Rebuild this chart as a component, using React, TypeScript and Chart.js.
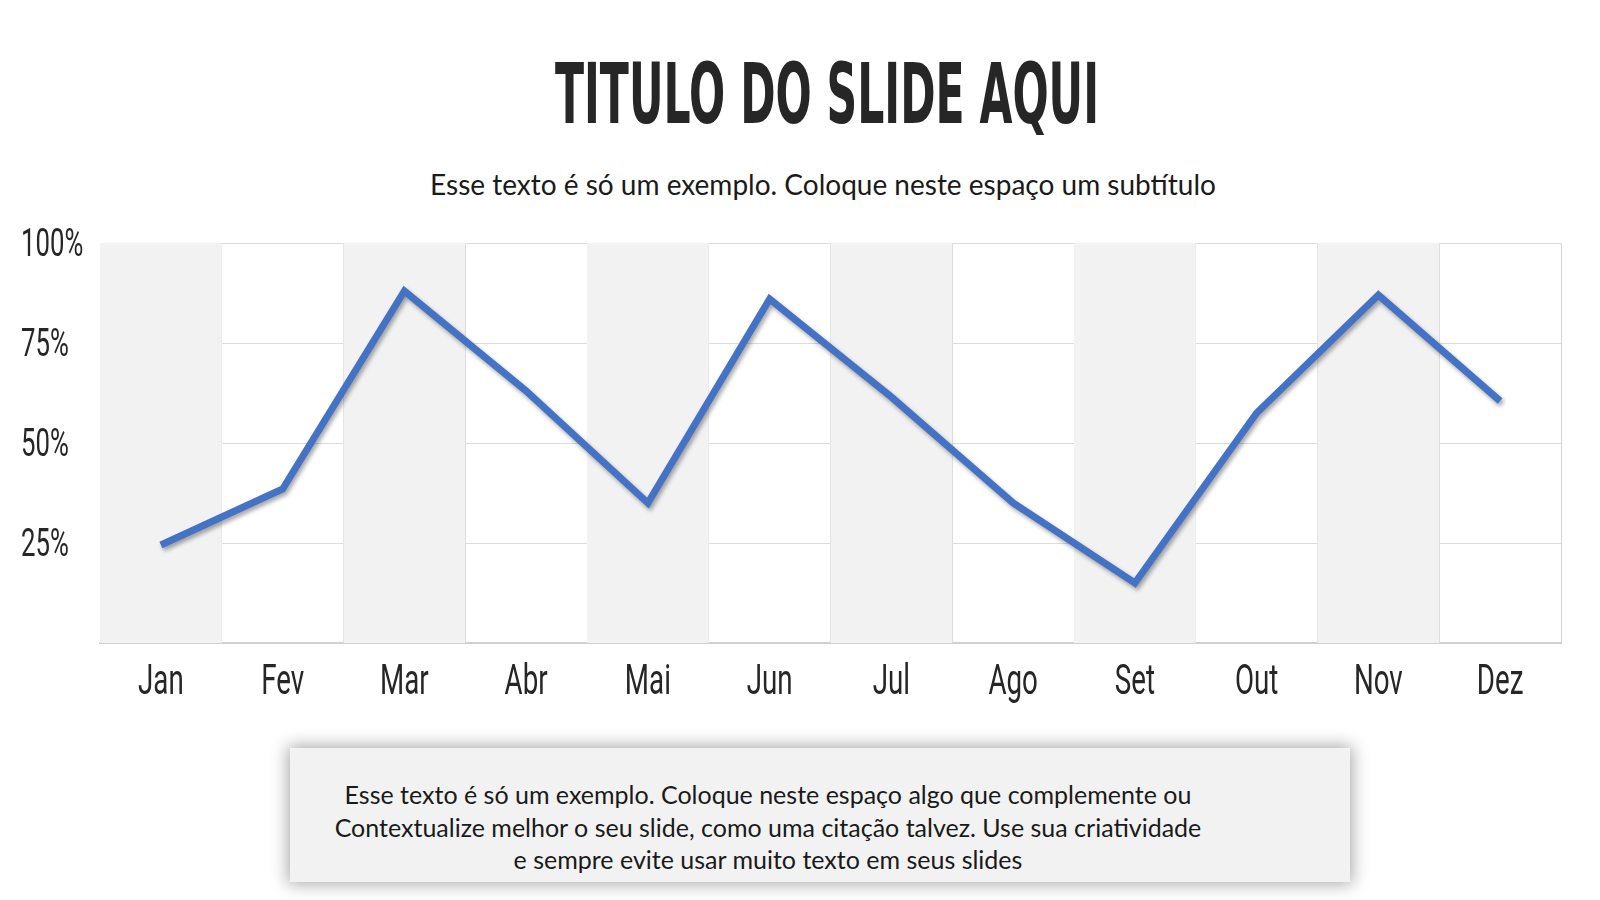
import { useEffect, useRef } from 'react';
import { Chart, ChartConfiguration, Plugin, registerables } from 'chart.js';

Chart.register(...registerables);

const months = ['Jan', 'Fev', 'Mar', 'Abr', 'Mai', 'Jun', 'Jul', 'Ago', 'Set', 'Out', 'Nov', 'Dez'];
const values = [24.5, 38.5, 88, 63, 35, 86, 61.5, 35, 15, 57.5, 87, 60.5];
const yTicks = [0, 25, 50, 75, 100];

const gill = 'Lato, "Open Sans", sans-serif';
const tickFont = '400 42px Roboto, "DejaVu Sans", sans-serif';
const yTickFont = '400 39px Roboto, "DejaVu Sans", sans-serif';
const squeeze = 0.66;

// grey bands behind every other month (Jan, Mar, Mai...)
const bandPlugin: Plugin = {
  id: 'bands',
  beforeDatasetsDraw(chart) {
    const { ctx, chartArea, scales } = chart;
    const x = scales.x;
    const w = (chartArea.right - chartArea.left) / months.length;
    ctx.save();
    ctx.fillStyle = '#f2f2f2';
    months.forEach((_, i) => {
      if (i % 2 !== 0) return;
      const cx = x.getPixelForValue(i);
      ctx.fillRect(cx - w / 2, chartArea.top, w, chartArea.bottom - chartArea.top);
    });
    ctx.restore();
  },
};

// soft drop shadow under the line
const shadowPlugin: Plugin = {
  id: 'lineShadow',
  beforeDatasetDraw(chart) {
    const ctx = chart.ctx;
    ctx.save();
    ctx.shadowColor = 'rgba(0,0,0,0.35)';
    ctx.shadowBlur = 4;
    ctx.shadowOffsetX = 2;
    ctx.shadowOffsetY = 3;
  },
  afterDatasetDraw(chart) {
    chart.ctx.restore();
  },
};

// condensed tick labels (no narrow font installed, so squeeze horizontally)
const condensedTicks: Plugin = {
  id: 'condensedTicks',
  afterDraw(chart) {
    const { ctx, chartArea, scales } = chart;
    const x = scales.x;
    const y = scales.y;
    ctx.save();
    ctx.fillStyle = '#262626';
    ctx.textBaseline = 'middle';

    ctx.font = tickFont;
    ctx.textAlign = 'center';
    x.ticks.forEach((t, i) => {
      const px = x.getPixelForTick(i);
      ctx.save();
      ctx.translate(px, chartArea.bottom + 40);
      ctx.scale(squeeze, 1);
      ctx.fillText(String(x.getLabelForValue(t.value)), 0, 0);
      ctx.restore();
    });

    ctx.font = yTickFont;
    ctx.textAlign = 'left';
    y.ticks.forEach((t) => {
      if (t.value === 0) return;
      const py = y.getPixelForValue(t.value);
      ctx.save();
      ctx.translate(21, py + 3);
      ctx.scale(squeeze, 1);
      ctx.fillText(`${t.value}%`, 0, 0);
      ctx.restore();
    });
    ctx.restore();
  },
};

export default function App() {
  const chartRef = useRef<HTMLCanvasElement>(null);
  const chartInstance = useRef<Chart | null>(null);

  useEffect(() => {
    document.body.style.margin = '0';
    if (!chartRef.current) return;
    const ctx = chartRef.current.getContext('2d');
    if (!ctx) return;

    if (chartInstance.current) {
      chartInstance.current.destroy();
    }

    const config: ChartConfiguration = {
      type: 'line',
      data: {
        labels: months,
        datasets: [
          {
            data: values,
            borderColor: '#4472c4',
            borderWidth: 7,
            pointRadius: 0,
            tension: 0,
            borderJoinStyle: 'miter',
            borderCapStyle: 'butt',
          },
        ],
      },
      options: {
        responsive: true,
        maintainAspectRatio: false,
        animation: false,
        layout: { padding: { top: 43, right: 39, left: 0, bottom: 0 } },
        plugins: {
          legend: { display: false },
          tooltip: { enabled: false },
        },
        scales: {
          x: {
            offset: true,
            afterFit: (scale) => {
              scale.height = 67;
            },
            grid: {
              offset: true,
              color: '#d6d6d6',
              lineWidth: 1,
              drawTicks: false,
            },
            border: { color: '#d0d0d0', width: 2 },
            ticks: { display: false },
          },
          y: {
            min: 0,
            max: 100,
            afterFit: (scale) => {
              scale.width = 100;
              scale.paddingTop = 0;
              scale.paddingBottom = 0;
            },
            afterBuildTicks: (scale) => {
              scale.ticks = yTicks.map((v) => ({ value: v }));
            },
            grid: {
              color: '#dcdcdc',
              lineWidth: 1,
              drawTicks: false,
            },
            border: { display: false },
            ticks: { display: false },
          },
        },
      },
      plugins: [bandPlugin, shadowPlugin, condensedTicks],
    };

    chartInstance.current = new Chart(ctx, config);

    return () => {
      if (chartInstance.current) {
        chartInstance.current.destroy();
        chartInstance.current = null;
      }
    };
  }, []);

  return (
    <div
      style={{
        position: 'relative',
        width: 1600,
        height: 900,
        background: '#ffffff',
        overflow: 'hidden',
      }}
    >
      <div
        style={{
          position: 'absolute',
          left: 0,
          width: 1654,
          top: 44,
          textAlign: 'center',
          fontFamily: '"DejaVu Sans", sans-serif',
          fontWeight: 'bold',
          fontSize: 84,
          lineHeight: '100px',
          color: '#262626',
          transform: 'scaleX(0.507)',
          transformOrigin: '50% 50%',
          whiteSpace: 'nowrap',
        }}
      >
        TITULO DO SLIDE AQUI
      </div>
      <div
        style={{
          position: 'absolute',
          left: 0,
          width: 1646,
          top: 165,
          textAlign: 'center',
          fontFamily: gill,
          fontSize: 28,
          lineHeight: '38px',
          color: '#1a1a1a',
          whiteSpace: 'nowrap',
        }}
      >
        Esse texto é só um exemplo. Coloque neste espaço um subtítulo
      </div>

      <div style={{ position: 'absolute', left: 0, top: 200, width: 1600, height: 510 }}>
        <canvas ref={chartRef} />
      </div>

      <div
        style={{
          position: 'absolute',
          left: 290,
          top: 748,
          width: 1060,
          height: 134,
          background: '#f2f2f2',
          boxShadow: '0 0 16px 2px rgba(0,0,0,0.35)',
        }}
      >
        <div
          style={{
            position: 'absolute',
            left: 0,
            top: 30,
            width: 956,
            textAlign: 'center',
            fontFamily: gill,
            fontSize: 25,
            lineHeight: '32.5px',
            color: '#1a1a1a',
          }}
        >
          Esse texto é só um exemplo. Coloque neste espaço algo que complemente ou
          <br />
          Contextualize melhor o seu slide, como uma citação talvez. Use sua criatividade
          <br />
          e sempre evite usar muito texto em seus slides
        </div>
      </div>
    </div>
  );
}
